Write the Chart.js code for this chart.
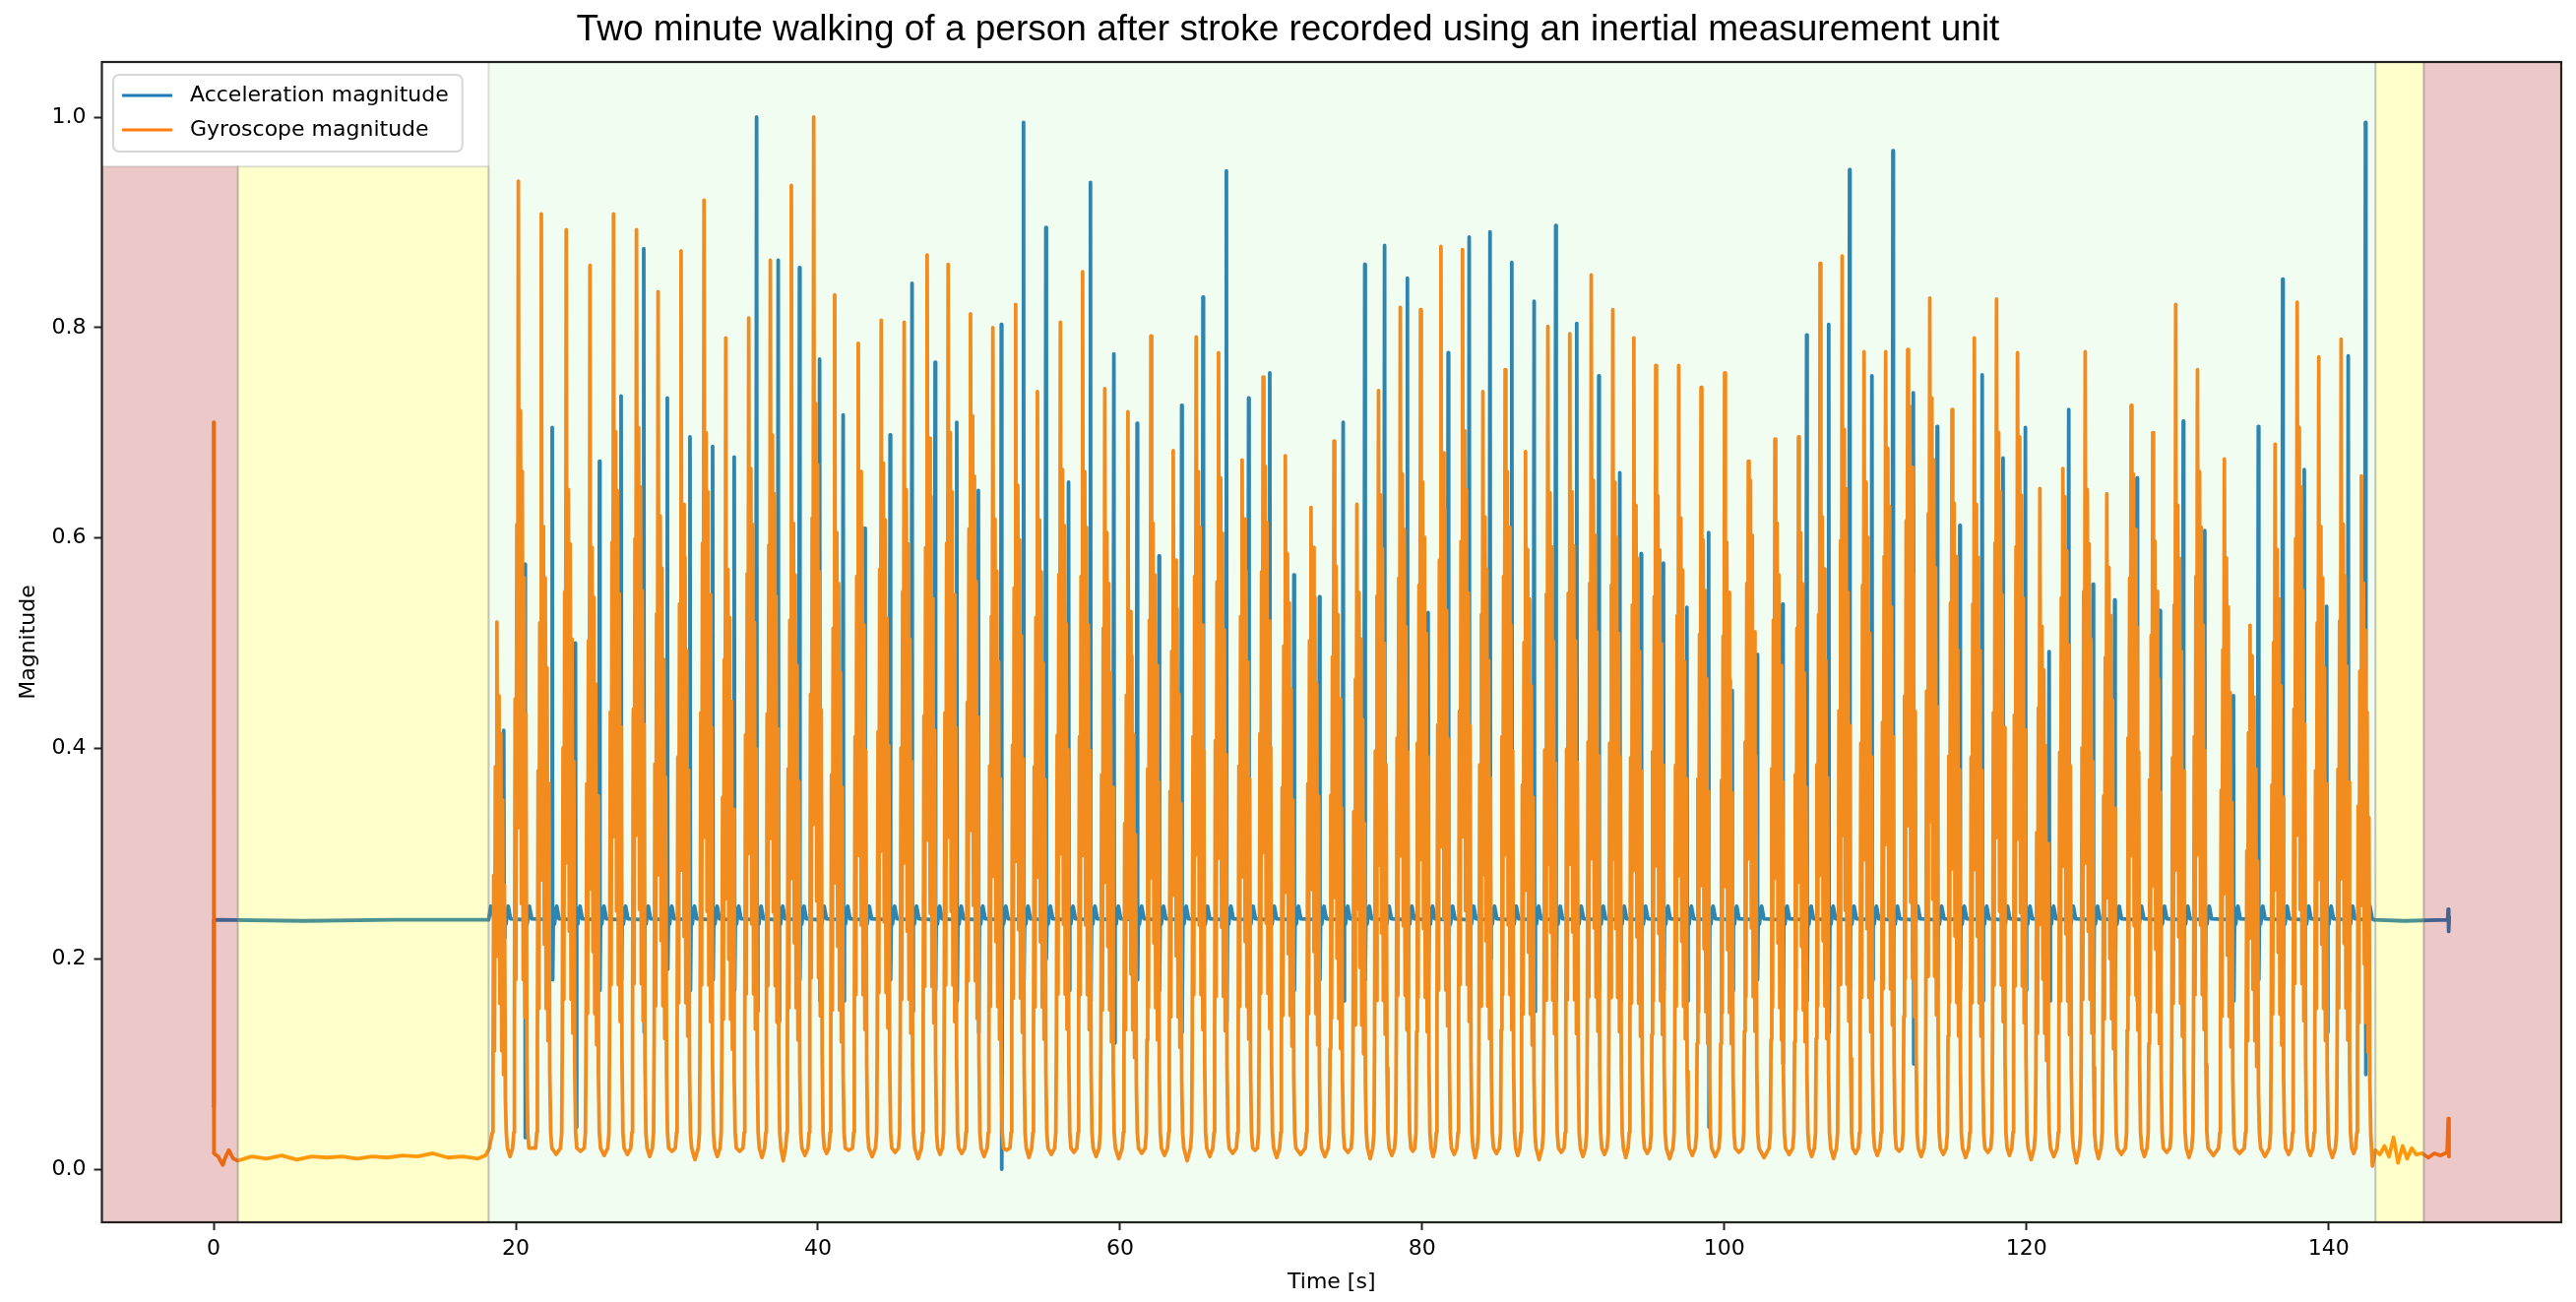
<!DOCTYPE html>
<html>
<head>
<meta charset="utf-8">
<script src="https://cdn.jsdelivr.net/npm/chart.js@4.4.1/dist/chart.umd.min.js"></script>
<style>
  html, body { margin: 0; padding: 0; background: #fff; }
  #wrap { width: 2617px; height: 1323px; }
</style>
</head>
<body>
<div id="wrap"><canvas id="imuChart" width="2617" height="1323"></canvas></div>
<script>
// ---- axis ticks
const xTicks = [0, 20, 40, 60, 80, 100, 120, 140];
const yTicks = [0.0, 0.2, 0.4, 0.6, 0.8, 1.0];

// ---- gyroscope: standing still before walking (t, value)
const gyroRestT = [0, 0.02, 0.3, 0.6, 0.8, 1.0, 1.3, 1.6, 2.5, 3.5, 4.5, 5.5, 6.5, 7.5, 8.5, 9.5, 10.5, 11.5, 12.5, 13.5, 14.5, 15.5, 16.5, 17.5, 18.0, 18.25];
const gyroRestV = [0.71, 0.015, 0.012, 0.004, 0.012, 0.018, 0.010, 0.008, 0.012, 0.010, 0.013, 0.009, 0.012, 0.011, 0.012, 0.010, 0.012, 0.011, 0.013, 0.012, 0.015, 0.011, 0.012, 0.010, 0.013, 0.020];

// ---- gyroscope: one entry per step (swing peak time, peak, shoulder, valley after)
const gyroPeakT = [18.75, 20.17, 21.69, 23.34, 24.91, 26.47, 27.99, 29.42, 30.94, 32.46,
  33.90, 35.42, 36.85, 38.24, 39.72, 41.11, 42.67, 44.19, 45.71, 47.23,
  48.62, 50.10, 51.58, 53.09, 54.53, 56.05, 57.52, 58.99, 60.52, 62.04,
  63.52, 65.04, 66.52, 68.08, 69.47, 70.94, 72.64, 74.16, 75.68, 77.11,
  78.55, 79.89, 81.24, 82.67, 84.02, 85.49, 86.84, 88.32, 89.77, 91.19,
  92.62, 94.01, 95.46, 96.98, 98.46, 100.02, 101.59, 103.35, 104.91, 106.34,
  107.80, 109.25, 110.68, 112.14, 113.60, 115.07, 116.55, 118.02, 119.41, 120.89,
  122.41, 123.89, 125.32, 126.93, 128.36, 129.88, 131.32, 133.10, 134.80, 136.46,
  137.92, 139.35, 140.83, 142.17];
const gyroPeakV = [0.52, 0.939, 0.908, 0.893, 0.859, 0.908, 0.893, 0.834, 0.873, 0.921,
  0.790, 0.809, 0.864, 0.935, 1.000, 0.831, 0.785, 0.807, 0.805, 0.869,
  0.860, 0.813, 0.800, 0.822, 0.739, 0.805, 0.853, 0.742, 0.720, 0.792,
  0.683, 0.791, 0.776, 0.674, 0.753, 0.678, 0.629, 0.692, 0.632, 0.740,
  0.819, 0.817, 0.877, 0.874, 0.739, 0.760, 0.682, 0.801, 0.794, 0.850,
  0.817, 0.790, 0.764, 0.764, 0.743, 0.757, 0.673, 0.694, 0.696, 0.861,
  0.868, 0.777, 0.777, 0.779, 0.828, 0.722, 0.790, 0.827, 0.776, 0.647,
  0.666, 0.777, 0.642, 0.726, 0.700, 0.822, 0.760, 0.675, 0.517, 0.689,
  0.824, 0.772, 0.789, 0.659];
const gyroShoulderV = [0.45, 0.721, 0.611, 0.646, 0.591, 0.701, 0.705, 0.621, 0.632, 0.700,
  0.570, 0.666, 0.698, 0.614, 0.728, 0.605, 0.663, 0.671, 0.646, 0.695,
  0.700, 0.716, 0.618, 0.650, 0.617, 0.665, 0.663, 0.605, 0.530, 0.614,
  0.579, 0.663, 0.657, 0.618, 0.668, 0.585, 0.591, 0.573, 0.548, 0.641,
  0.661, 0.653, 0.681, 0.702, 0.620, 0.663, 0.589, 0.643, 0.644, 0.655,
  0.653, 0.631, 0.640, 0.619, 0.598, 0.596, 0.655, 0.614, 0.605, 0.620,
  0.703, 0.653, 0.685, 0.725, 0.733, 0.633, 0.632, 0.700, 0.696, 0.516,
  0.639, 0.646, 0.572, 0.661, 0.597, 0.631, 0.663, 0.581, 0.488, 0.589,
  0.705, 0.611, 0.613, 0.557];
const gyroTroughV = [0.012, 0.020, 0.014, 0.017, 0.013, 0.014, 0.012, 0.017, 0.009, 0.012,
  0.017, 0.011, 0.008, 0.013, 0.015, 0.018, 0.012, 0.016, 0.010, 0.014,
  0.015, 0.012, 0.018, 0.011, 0.014, 0.016, 0.012, 0.010, 0.015, 0.013,
  0.008, 0.012, 0.015, 0.018, 0.011, 0.014, 0.012, 0.016, 0.010, 0.013,
  0.017, 0.012, 0.014, 0.011, 0.015, 0.013, 0.009, 0.016, 0.012, 0.014,
  0.011, 0.015, 0.010, 0.013, 0.012, 0.016, 0.011, 0.014, 0.012, 0.010,
  0.015, 0.013, 0.017, 0.012, 0.014, 0.011, 0.016, 0.013, 0.009, 0.012,
  0.006, 0.010, 0.014, 0.012, 0.016, 0.011, 0.013, 0.015, 0.012, 0.014,
  0.013, 0.011, 0.015, 0.003];

// ---- shape of one swing, read off a zoomed step:
//      offset (s) from the peak, and level as a share of that step's shoulder
const swingRiseT = [-0.26, -0.21, -0.16, -0.10, -0.05];
const swingRiseF = [0.20, 0.62, 0.25, 0.85, 0.45];
const swingDipT = 0.05, swingDipF = 0.60, swingShoulderT = 0.14;
const swingFallT = [0.20, 0.26, 0.32, 0.38, 0.44, 0.50, 0.56];
const swingFallF = [0.35, 0.92, 0.25, 0.78, 0.20, 0.60, 0.15];
const swingEdgeT = [-0.30, 0.62];
const swingEdgeV = 0.035;
const valleyEdgeV = 0.02;

// ---- gyroscope: standing still after walking
const gyroEndT = [142.9, 143.1, 143.4, 143.7, 144.0, 144.3, 144.6, 144.9, 145.2, 145.5, 145.8, 146.2, 146.6, 147.0, 147.4, 147.85, 147.92, 147.97];
const gyroEndV = [0.003, 0.018, 0.014, 0.022, 0.012, 0.030, 0.006, 0.022, 0.010, 0.020, 0.014, 0.015, 0.011, 0.015, 0.013, 0.016, 0.048, 0.012];

// ---- acceleration: heel-strike spikes (time, top, bottom)
const accSpikeT = [19.2, 20.6, 22.41, 23.95, 25.54, 26.97, 28.47, 30.03, 31.53, 33.03,
  34.46, 35.94, 37.37, 38.78, 40.11, 41.67, 43.10, 44.78, 46.23, 47.76,
  49.19, 50.62, 52.14, 53.61, 55.09, 56.59, 58.04, 59.59, 61.13, 62.58,
  64.08, 65.49, 67.04, 68.51, 69.91, 71.51, 73.20, 74.77, 76.20, 77.51,
  79.02, 80.39, 81.72, 83.11, 84.49, 85.93, 87.41, 88.84, 90.23, 91.69,
  93.08, 94.49, 95.97, 97.52, 98.96, 100.52, 102.17, 103.86, 105.45, 106.91,
  108.29, 109.77, 111.16, 112.51, 114.09, 115.59, 117.07, 118.45, 119.93, 121.50,
  122.80, 124.41, 125.84, 127.32, 128.84, 130.38, 131.80, 133.70, 135.35, 136.96,
  138.39, 139.87, 141.30, 142.44];
const accSpikeHi = [0.417, 0.575, 0.705, 0.50, 0.673, 0.735, 0.875, 0.733, 0.696, 0.687,
  0.677, 1.0, 0.864, 0.857, 0.770, 0.717, 0.609, 0.698, 0.842, 0.767,
  0.71, 0.645, 0.803, 0.995, 0.895, 0.653, 0.938, 0.775, 0.709, 0.583,
  0.726, 0.829, 0.949, 0.733, 0.757, 0.565, 0.544, 0.710, 0.860, 0.878,
  0.847, 0.529, 0.776, 0.886, 0.891, 0.862, 0.825, 0.897, 0.804, 0.754,
  0.662, 0.585, 0.576, 0.534, 0.605, 0.455, 0.489, 0.537, 0.793, 0.803,
  0.950, 0.754, 0.968, 0.738, 0.706, 0.612, 0.755, 0.676, 0.705, 0.492,
  0.722, 0.556, 0.541, 0.657, 0.531, 0.711, 0.607, 0.45, 0.706, 0.846,
  0.665, 0.535, 0.773, 0.995];
const accSpikeLo = [0.22, 0.03, 0.18, 0.04, 0.17, 0.18, 0.13, 0.19, 0.17, 0.18,
  0.17, 0.15, 0.14, 0.18, 0.16, 0.16, 0.17, 0.18, 0.15, 0.17,
  0.16, 0.13, 0.00, 0.18, 0.20, 0.17, 0.16, 0.12, 0.18, 0.17,
  0.13, 0.16, 0.14, 0.19, 0.19, 0.17, 0.18, 0.16, 0.18, 0.17,
  0.16, 0.17, 0.17, 0.18, 0.20, 0.18, 0.15, 0.16, 0.18, 0.17,
  0.16, 0.18, 0.17, 0.16, 0.04, 0.17, 0.18, 0.10, 0.16, 0.13,
  0.17, 0.18, 0.16, 0.10, 0.17, 0.17, 0.16, 0.18, 0.17, 0.16,
  0.18, 0.13, 0.17, 0.16, 0.14, 0.18, 0.17, 0.16, 0.18, 0.17,
  0.16, 0.13, 0.17, 0.09];
const accBase = 0.237;
// settle after each spike (offset s, value)
const accSettleT = [0.08, 0.15, 0.30, 0.45];
const accSettleV = [0.248, 0.233, 0.250, 0.238];
// still periods
const accStartT = [0, 0.02, 6.0, 12.0, 18.2, 18.35, 18.6];
const accStartV = [0.06, 0.237, 0.236, 0.237, 0.237, 0.25, 0.236];
const accEndT = [143.0, 145.0, 147.88, 147.92, 147.95, 147.98];
const accEndV = [0.237, 0.236, 0.237, 0.247, 0.226, 0.240];

// ---- shaded phases
const phaseFrom = [-7.4, 1.6, 18.2, 143.1, 146.3];
const phaseTo = [1.6, 18.2, 143.1, 146.3, 155.4];
const phaseTop = [0.953, 0.953, null, null, null];
const phaseColor = ['rgba(178,34,34,0.25)', 'rgba(255,255,0,0.2)', 'rgba(144,238,144,0.12)', 'rgba(255,255,0,0.2)', 'rgba(178,34,34,0.25)'];

// build line vertices
const gyroPoints = [];
gyroRestT.forEach((t, i) => gyroPoints.push({ x: t, y: gyroRestV[i] }));
gyroPeakT.forEach((tp, i) => {
    const vs = gyroShoulderV[i];
    gyroPoints.push({ x: tp + swingEdgeT[0], y: swingEdgeV });
    swingRiseT.forEach((o, k) => gyroPoints.push({ x: tp + o, y: swingRiseF[k] * vs }));
    gyroPoints.push({ x: tp, y: gyroPeakV[i] });
    gyroPoints.push({ x: tp + swingDipT, y: swingDipF * vs });
    gyroPoints.push({ x: tp + swingShoulderT, y: vs });
    swingFallT.forEach((o, k) => gyroPoints.push({ x: tp + o, y: swingFallF[k] * vs }));
    gyroPoints.push({ x: tp + swingEdgeT[1], y: swingEdgeV });
    if (i + 1 < gyroPeakT.length) {
        const a = tp + 0.70, b = gyroPeakT[i + 1] - 0.38;
        gyroPoints.push({ x: a, y: valleyEdgeV });
        gyroPoints.push({ x: (a + b) / 2, y: gyroTroughV[i] });
        gyroPoints.push({ x: b, y: valleyEdgeV });
    }
});
gyroEndT.forEach((t, i) => gyroPoints.push({ x: t, y: gyroEndV[i] }));

const accPoints = [];
accStartT.forEach((t, i) => accPoints.push({ x: t, y: accStartV[i] }));
accSpikeT.forEach((tb, i) => {
    accPoints.push({ x: tb - 0.05, y: accBase });
    accPoints.push({ x: tb, y: accSpikeHi[i] });
    accPoints.push({ x: tb + 0.03, y: accSpikeLo[i] });
    accSettleT.forEach((o, k) => accPoints.push({ x: tb + o, y: accSettleV[k] }));
});
accEndT.forEach((t, i) => accPoints.push({ x: t, y: accEndV[i] }));

Chart.defaults.font.family = '"DejaVu Sans", sans-serif';
Chart.defaults.font.size = 22;
Chart.defaults.color = '#000';

const phasePlugin = {
    id: 'phases',
    afterDatasetsDraw(chart) {
        const { ctx, chartArea, scales } = chart;
        ctx.save();
        ctx.beginPath();
        ctx.rect(chartArea.left, chartArea.top, chartArea.right - chartArea.left, chartArea.bottom - chartArea.top);
        ctx.clip();
        phaseFrom.forEach((f, i) => {
            const x0 = scales.x.getPixelForValue(f);
            const x1 = scales.x.getPixelForValue(phaseTo[i]);
            const y0 = phaseTop[i] === null ? chartArea.top : scales.y.getPixelForValue(phaseTop[i]);
            ctx.fillStyle = phaseColor[i];
            ctx.fillRect(x0, y0, x1 - x0, chartArea.bottom - y0);
            ctx.strokeStyle = 'rgba(120,120,120,0.25)';
            ctx.lineWidth = 2;
            ctx.strokeRect(x0, y0, x1 - x0, chartArea.bottom - y0);
        });
        ctx.restore();
    }
};

const framePlugin = {
    id: 'frame',
    afterDraw(chart) {
        const { ctx, chartArea } = chart;
        ctx.save();
        ctx.strokeStyle = '#222';
        ctx.lineWidth = 2.2;
        ctx.strokeRect(chartArea.left, chartArea.top, chartArea.right - chartArea.left, chartArea.bottom - chartArea.top);
        // title
        ctx.fillStyle = '#000';
        ctx.font = '37px "Liberation Sans", Arial, sans-serif';
        ctx.textAlign = 'center';
        ctx.textBaseline = 'middle';
        ctx.fillText('Two minute walking of a person after stroke recorded using an inertial measurement unit', chart.width / 2, 31);
        // legend
        const sets = chart.data.datasets;
        ctx.font = '22px "DejaVu Sans", sans-serif';
        const tw = Math.max(...sets.map(d => ctx.measureText(d.label).width));
        const bx = 115, by = 76, bw = 193 - bx + tw + 14, bh = 78;
        ctx.beginPath();
        ctx.roundRect(bx, by, bw, bh, 6);
        ctx.fillStyle = 'rgba(255,255,255,0.85)';
        ctx.fill();
        ctx.strokeStyle = '#d6d6d6';
        ctx.lineWidth = 2;
        ctx.stroke();
        sets.forEach((d, i) => {
            const y = 97 + i * 35;
            ctx.strokeStyle = d.borderColor;
            ctx.lineWidth = 3;
            ctx.beginPath();
            ctx.moveTo(124, y);
            ctx.lineTo(175, y);
            ctx.stroke();
            ctx.fillStyle = '#000';
            ctx.textAlign = 'left';
            ctx.fillText(d.label, 193, y);
        });
        ctx.restore();
    }
};

const ctx = document.getElementById('imuChart').getContext('2d');
new Chart(ctx, {
    type: 'line',
    data: {
        datasets: [
            { label: 'Acceleration magnitude', data: accPoints, borderColor: '#1f77b4', borderWidth: 3.8, pointRadius: 0, borderJoinStyle: 'round', borderCapStyle: 'round', order: 2 },
            { label: 'Gyroscope magnitude', data: gyroPoints, borderColor: '#ff7f0e', borderWidth: 3.8, pointRadius: 0, borderJoinStyle: 'round', borderCapStyle: 'round', order: 1 }
        ]
    },
    options: {
        responsive: false,
        animation: false,
        devicePixelRatio: 1,
        parsing: false,
        layout: { padding: { top: 63, right: 15, bottom: 0, left: 0 } },
        plugins: { legend: { display: false }, title: { display: false }, tooltip: { enabled: false } },
        scales: {
            x: {
                type: 'linear',
                min: -7.4,
                max: 155.4,
                afterBuildTicks: s => { s.ticks = xTicks.map(v => ({ value: v })); },
                afterFit: s => { s.height = 81; },
                ticks: { padding: 6, callback: v => String(v), maxRotation: 0 },
                grid: { display: true, drawOnChartArea: false, drawTicks: true, tickLength: 8, tickWidth: 2, tickColor: '#222' },
                border: { display: false },
                title: { display: true, text: 'Time [s]', padding: { top: 0, bottom: 7 } }
            },
            y: {
                type: 'linear',
                min: -0.0505,
                max: 1.0524,
                afterBuildTicks: s => { s.ticks = yTicks.map(v => ({ value: v })); },
                afterFit: s => { s.width = 103.5; },
                ticks: { padding: 8, callback: v => v.toFixed(1) },
                grid: { display: true, drawOnChartArea: false, drawTicks: true, tickLength: 8, tickWidth: 2, tickColor: '#222' },
                border: { display: false },
                title: { display: true, text: 'Magnitude', padding: { top: 16, bottom: 0 } }
            }
        }
    },
    plugins: [phasePlugin, framePlugin]
});
</script>
</body>
</html>
